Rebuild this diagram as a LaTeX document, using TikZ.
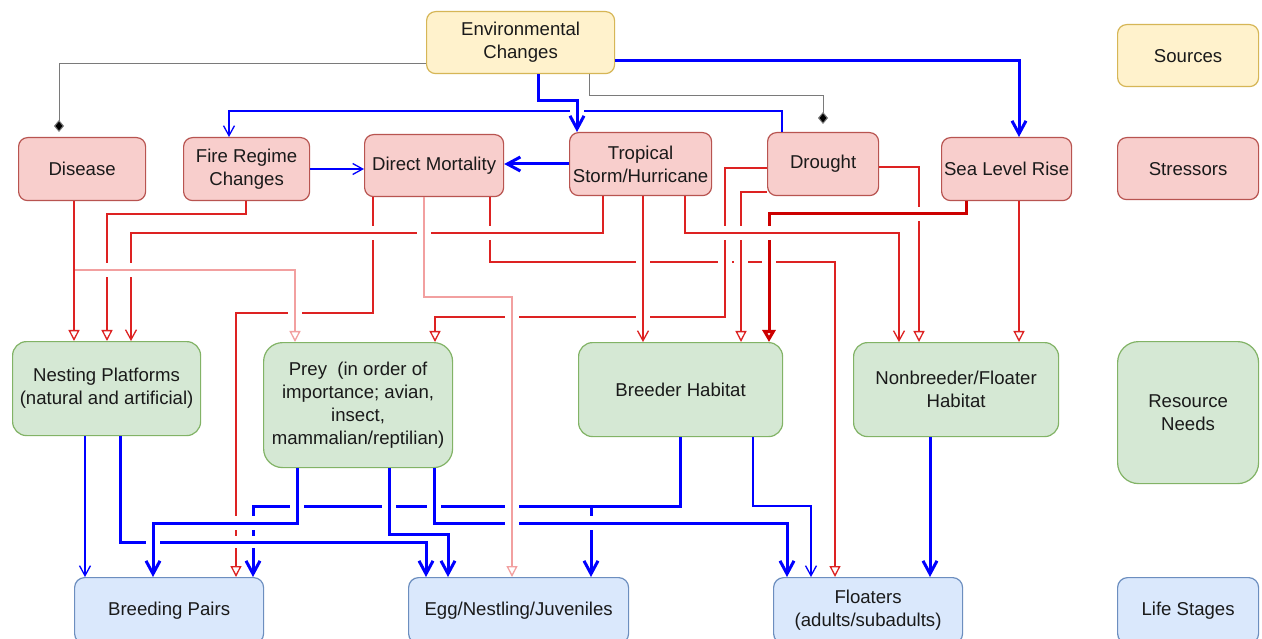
\documentclass[tikz,border=0pt]{standalone}
\usepackage{fontspec}
\setmainfont{Liberation Sans}
\usetikzlibrary{arrows.meta}
\definecolor{yfill}{HTML}{FFF2CC}\definecolor{ydraw}{HTML}{D6B656}
\definecolor{rfill}{HTML}{F8CECC}\definecolor{rdraw}{HTML}{B85450}
\definecolor{gfill}{HTML}{D5E8D4}\definecolor{gdraw}{HTML}{82B366}
\definecolor{bfill}{HTML}{DAE8FC}\definecolor{bdraw}{HTML}{6C8EBF}
\definecolor{lnred}{HTML}{DD2222}
\definecolor{lndred}{HTML}{CC0000}
\definecolor{lnpink}{HTML}{F2A0A0}
\definecolor{lnblue}{HTML}{0000FF}
\definecolor{lngray}{HTML}{7A7A7A}
\definecolor{txt}{HTML}{1A1A1A}
\tikzset{
  box/.style={draw, line width=1.2pt, inner sep=0pt, align=center, anchor=north west,
    text=txt, font=\fontsize{18.6}{23}\selectfont},
  ybox/.style={box, fill=yfill, draw=ydraw},
  rbox/.style={box, fill=rfill, draw=rdraw},
  gbox/.style={box, fill=gfill, draw=gdraw},
  bbox/.style={box, fill=bfill, draw=bdraw},
  halo/.style={preaction={draw=white, line width=#1, arrows=-, shorten <=5pt, shorten >=5pt}},
  halo/.default=14pt,
  thinred/.style={draw=lnred, line width=1.3pt},
  thickred/.style={draw=lndred, line width=3pt},
  pinkln/.style={draw=lnpink, line width=1.3pt},
  thinblue/.style={draw=lnblue, line width=1.3pt},
  thickblue/.style={draw=lnblue, line width=3pt},
  grayln/.style={draw=lngray, line width=1pt},
  tri/.style={-{Triangle[open, length=11pt, width=11pt]}},
  bigtri/.style={-{Triangle[open, length=12pt, width=13pt]}},
  vee/.style={-{Straight Barb[length=10pt, width=11pt]}},
  bigvee/.style={-{Straight Barb[length=13pt, width=14pt]}},
  dia/.style={-{Diamond[length=12pt, width=10pt, fill=black]}},
}
\begin{document}
\begin{tikzpicture}[x=1pt, y=-1pt]
\fill[white] (0,0) rectangle (1262,639);
\useasboundingbox (0,0) rectangle (1262,639);

% ---------- nodes ----------
\node[ybox, rounded corners=9pt, minimum width=188, minimum height=62] (env) at (426,11) {Environmental\\Changes};
\node[ybox, rounded corners=9pt, minimum width=141, minimum height=62] (src) at (1117,24) {Sources};

\node[rbox, rounded corners=9pt, minimum width=127, minimum height=63] (dis) at (18,137) {Disease};
\node[rbox, rounded corners=9pt, minimum width=126, minimum height=63] (fire) at (183,137) {Fire Regime\\Changes};
\node[rbox, rounded corners=9pt, minimum width=139, minimum height=62] (dm) at (364,134) {Direct Mortality};
\node[rbox, rounded corners=9pt, minimum width=142, minimum height=63] (trop) at (569,132) {Tropical\\Storm/Hurricane};
\node[rbox, rounded corners=9pt, minimum width=111, minimum height=63] (dro) at (767,132) {Drought};
\node[rbox, rounded corners=9pt, minimum width=130, minimum height=63] (slr) at (941,137) {Sea Level Rise};
\node[rbox, rounded corners=9pt, minimum width=141, minimum height=62] (str) at (1117,137) {Stressors};

\node[gbox, rounded corners=14pt, minimum width=188, minimum height=94] (nest) at (12,341) {Nesting Platforms\\(natural and artificial)};
\node[gbox, rounded corners=19pt, minimum width=189, minimum height=125] (prey) at (263,342) {Prey\ \ (in order of\\importance; avian,\\insect,\\mammalian/reptilian)};
\node[gbox, rounded corners=14pt, minimum width=204, minimum height=94] (breed) at (578,342) {Breeder Habitat};
\node[gbox, rounded corners=14pt, minimum width=205, minimum height=94] (nonb) at (853,342) {Nonbreeder/Floater\\Habitat};
\node[gbox, rounded corners=21pt, minimum width=141, minimum height=142] (rneed) at (1117,341) {Resource\\Needs};

\node[bbox, rounded corners=10pt, minimum width=189, minimum height=66] (bp) at (74,577) {Breeding Pairs};
\node[bbox, rounded corners=10pt, minimum width=220, minimum height=66] (egg) at (408,577) {Egg/Nestling/Juveniles};
\node[bbox, rounded corners=10pt, minimum width=189, minimum height=66] (flo) at (773,577) {Floaters\\(adults/subadults)};
\node[bbox, rounded corners=10pt, minimum width=141, minimum height=66] (life) at (1117,577) {Life Stages};

% ---------- top connectors ----------
\draw[grayln, dia, shorten >=5pt] (env.west |- 0,64) -- (59,64) -- (dis.north -| 59,0);
\draw[grayln, dia, shorten >=8pt] (env.south -| 589,0) -- (589,96) -- (823,96) -- (dro.north -| 823,0);
\draw[thinblue, vee] (dro.north -| 782,0) -- (782,111) -- (229,111) -- (fire.north -| 229,0);
\draw[thickblue, bigvee, halo] (env.south -| 538,0) -- (538,101) -- (577,101) -- (trop.north -| 577,0);
\draw[thickblue, bigvee] (env.east |- 0,61) -- (1019,61) -- (slr.north -| 1019,0);
\draw[thinblue, vee] (fire.east |- 0,169) -- (dm.west |- 0,169);
\draw[thickblue, bigvee] (trop.west |- 0,164) -- (dm.east |- 0,164);

% ---------- stressor -> resource connectors ----------
\draw[thinred, tri] (dm.south -| 373,0) -- (373,313) -- (236,313) -- (bp.north -| 236,0);
\draw[thinred, tri] (dm.south -| 490,0) -- (490,262) -- (835,262) -- (flo.north -| 835,0);
\draw[thinred, tri] (fire.south -| 246,0) -- (246,214) -- (107,214) -- (nest.north -| 107,0);
\draw[thinred, tri] (dro.east |- 0,167) -- (919,167) -- (nonb.north -| 919,0);
\draw[thinred, tri, halo] (dro.west |- 0,168) -- (725,168) -- (725,317) -- (435,317) -- (prey.north -| 435,0);
\draw[thinred, tri, halo] (dro.west |- 0,192) -- (741,192) -- (breed.north -| 741,0);
\draw[thickred, bigtri, halo] (slr.south -| 966,0) -- (966,214) -- (769,214) -- (breed.north -| 769,0);
\draw[thinred, vee, halo] (trop.south -| 685,0) -- (685,233) -- (899,233) -- (nonb.north -| 899,0);
\draw[thinred, vee, halo] (trop.south -| 643,0) -- (breed.north -| 643,0);
\draw[thinred, vee, halo] (trop.south -| 603,0) -- (603,233) -- (131,233) -- (nest.north -| 131,0);

% ---------- resource -> life stage connectors ----------
\draw[thickblue, bigvee] (breed.south -| 680,0) -- (680,506) -- (253,506) -- (bp.north -| 253,0);
\draw[thickblue, bigvee] (breed.south -| 680,0) -- (680,506) -- (591,506) -- (egg.north -| 591,0);
\draw[thickblue, bigvee, halo] (prey.south -| 389,0) -- (389,534) -- (448,534) -- (egg.north -| 448,0);
\draw[thickblue, bigvee, halo=12pt] (nest.south -| 120,0) -- (120,542) -- (426,542) -- (egg.north -| 426,0);
\draw[thickblue, bigvee, halo] (prey.south -| 297,0) -- (297,523) -- (153,523) -- (bp.north -| 153,0);
\draw[thickblue, bigvee, halo] (prey.south -| 434,0) -- (434,523) -- (787,523) -- (flo.north -| 787,0);
\draw[thinblue, vee] (nest.south -| 85,0) -- (bp.north -| 85,0);
\draw[thinblue, vee] (breed.south -| 753,0) -- (753,506) -- (811,506) -- (flo.north -| 811,0);
\draw[thickblue, bigvee] (nonb.south -| 930,0) -- (flo.north -| 930,0);

% ---------- remaining stressor connectors ----------
\draw[pinkln, tri, halo] (dm.south -| 424,0) -- (424,297) -- (512,297) -- (egg.north -| 512,0);
\draw[pinkln, tri, halo] (dis.south -| 74,0) -- (74,270) -- (295,270) -- (prey.north -| 295,0);
\draw[thinred, tri] (dis.south -| 74,0) -- (nest.north -| 74,0);
\draw[thinred, tri] (slr.south -| 1019,0) -- (nonb.north -| 1019,0);
\end{tikzpicture}
\end{document}
